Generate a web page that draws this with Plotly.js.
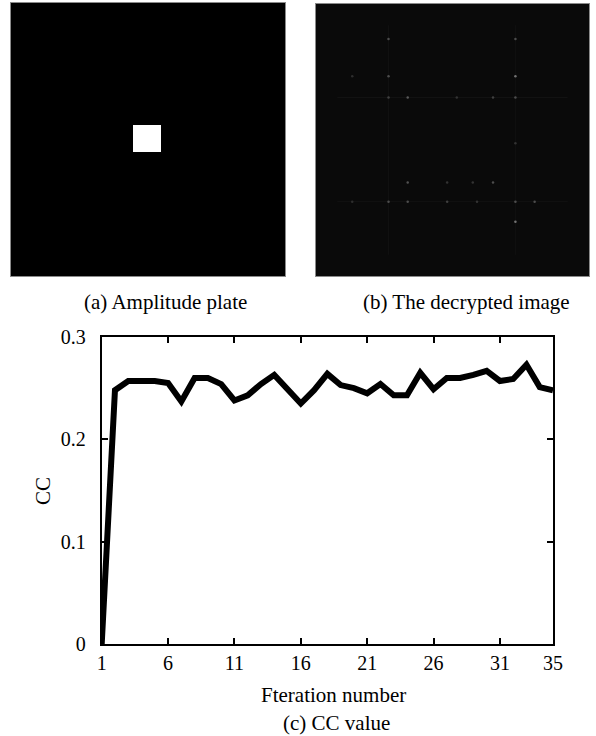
<!DOCTYPE html>
<html>
<head>
<meta charset="utf-8">
<script src="https://cdn.plot.ly/plotly-3.0.1.min.js"></script>
<style>
  html, body { margin: 0; padding: 0; background: #fff; }
  #chart { width: 596px; height: 736px; }
</style>
</head>
<body>
<div id="chart"></div>
<script>
// ---- (c) CC value curve ----
const iterations = [1,2,3,4,5,6,7,8,9,10,11,12,13,14,15,16,17,18,19,20,21,22,23,24,25,26,27,28,29,30,31,32,33,34,35];
const ccValues = [0, 0.248, 0.257, 0.257, 0.257, 0.255, 0.237, 0.260, 0.260, 0.254,
                  0.238, 0.243, 0.254, 0.263, 0.250, 0.235, 0.248, 0.264, 0.253, 0.250,
                  0.245, 0.254, 0.243, 0.243, 0.265, 0.249, 0.260, 0.260, 0.263, 0.267,
                  0.257, 0.259, 0.273, 0.251, 0.248];
const xTickVals = [1, 6, 11, 16, 21, 26, 31, 35];
const yTickVals = [0, 0.1, 0.2, 0.3];
const yTickText = ["0", "0.1", "0.2", "0.3"];

// ---- (a) amplitude plate: 256x256 image, white square in the middle ----
const plateEdges = [0, 114, 140, 256];
const plateZ = [[0, 0, 0], [0, 1, 0], [0, 0, 0]];

// ---- (b) decrypted image: dark field with faint bright spots ----
const decEdges = [0, 256];
const decZ = [[1]];
const dotX = [68, 187, 34, 68, 187, 68, 86, 132, 166, 187, 187, 86, 123, 147, 166, 68, 86, 123, 151, 187, 205, 34, 187];
const dotY = [33, 33, 68, 68, 68, 88, 88, 88, 88, 88, 131, 168, 168, 168, 168, 186, 186, 186, 186, 186, 186, 186, 205];
const dotLevel = [0.3, 0.3, 0.18, 0.3, 0.45, 0.25, 0.35, 0.2, 0.25, 0.3, 0.2, 0.32, 0.2, 0.2, 0.3, 0.3, 0.3, 0.25, 0.2, 0.3, 0.3, 0.18, 0.45];
const gridRowsY = [88, 186];
const gridColsX = [68, 187];

const W = 596, H = 736;
const px = v => v / W;
const py = v => 1 - v / H;
const FONT = "Liberation Serif";

const traces = [];

traces.push({
  type: "scatter", mode: "lines", x: iterations, y: ccValues,
  xaxis: "x", yaxis: "y",
  line: { color: "#000", width: 6 },
  hoverinfo: "skip", showlegend: false
});

traces.push({
  type: "heatmap", x: plateEdges, y: plateEdges, z: plateZ,
  xaxis: "x2", yaxis: "y2",
  colorscale: [[0, "#000000"], [1, "#ffffff"]], zmin: 0, zmax: 1,
  showscale: false, hoverinfo: "skip"
});

traces.push({
  type: "heatmap", x: decEdges, y: decEdges, z: decZ,
  xaxis: "x3", yaxis: "y3",
  colorscale: [[0, "#0a0a0a"], [1, "#0a0a0a"]], zmin: 0, zmax: 1,
  showscale: false, hoverinfo: "skip"
});
gridRowsY.forEach(r => traces.push({
  type: "scatter", mode: "lines", x: [20, 236], y: [r, r],
  xaxis: "x3", yaxis: "y3", line: { color: "#121212", width: 1 },
  hoverinfo: "skip", showlegend: false
}));
gridColsX.forEach(c => traces.push({
  type: "scatter", mode: "lines", x: [c, c], y: [20, 236],
  xaxis: "x3", yaxis: "y3", line: { color: "#111111", width: 1 },
  hoverinfo: "skip", showlegend: false
}));
traces.push({
  type: "scatter", mode: "markers", x: dotX, y: dotY,
  xaxis: "x3", yaxis: "y3",
  marker: {
    size: 2.5,
    color: dotLevel.map(l => { const g = Math.round(l * 255); return `rgb(${g},${g},${g})`; })
  },
  hoverinfo: "skip", showlegend: false
});

const imgAxis = (domain) => ({
  domain: domain, range: [0, 256], showgrid: false, zeroline: false,
  showticklabels: false, ticks: "", showline: true, mirror: true,
  linecolor: "#8a8a8a", linewidth: 1, fixedrange: true
});
const imgYAxis = (domain) => Object.assign(imgAxis(domain), { range: [256, 0] });

const layout = {
  width: W, height: H,
  margin: { l: 0, r: 0, t: 0, b: 0 },
  paper_bgcolor: "#fff", plot_bgcolor: "#fff",
  font: { family: FONT, color: "#000", size: 20 },
  showlegend: false,
  xaxis: {
    domain: [px(101.7), px(553)], range: [1, 35],
    tickvals: xTickVals, ticktext: xTickVals.map(String),
    ticks: "inside", ticklen: 6, tickwidth: 2, tickcolor: "#000",
    showline: true, linewidth: 2, linecolor: "#000", mirror: "ticks",
    showgrid: false, zeroline: false,
    tickfont: { family: FONT, size: 20, color: "#000" }
  },
  yaxis: {
    domain: [py(644), py(337)], range: [0, 0.3],
    tickvals: yTickVals, ticktext: yTickText,
    ticks: "inside", ticklen: 6, tickwidth: 2, tickcolor: "#000",
    showline: true, linewidth: 2, linecolor: "#000", mirror: "ticks",
    showgrid: false, zeroline: false, ticklabelstandoff: 10,
    tickfont: { family: FONT, size: 20, color: "#000" }
  },
  xaxis2: Object.assign(imgAxis([px(11), px(285)]), { anchor: "y2" }),
  yaxis2: Object.assign(imgYAxis([py(276), py(3)]), { anchor: "x2" }),
  xaxis3: Object.assign(imgAxis([px(316), px(589)]), { anchor: "y3" }),
  yaxis3: Object.assign(imgYAxis([py(276), py(4)]), { anchor: "x3" }),
  annotations: [
    { text: "(a) Amplitude plate", xref: "paper", yref: "paper", x: px(165), y: py(302),
      xanchor: "center", yanchor: "middle", showarrow: false, font: { family: FONT, size: 21, color: "#000" } },
    { text: "(b) The decrypted image", xref: "paper", yref: "paper", x: px(467), y: py(302),
      xanchor: "center", yanchor: "middle", showarrow: false, font: { family: FONT, size: 21, color: "#000" } },
    { text: "Fteration number", xref: "paper", yref: "paper", x: px(333), y: py(695),
      xanchor: "center", yanchor: "middle", showarrow: false, font: { family: FONT, size: 21, color: "#000" } },
    { text: "(c) CC value", xref: "paper", yref: "paper", x: px(336), y: py(723),
      xanchor: "center", yanchor: "middle", showarrow: false, font: { family: FONT, size: 21, color: "#000" } },
    { text: "CC", xref: "paper", yref: "paper", x: px(43), y: py(491), textangle: -90,
      xanchor: "center", yanchor: "middle", showarrow: false, font: { family: FONT, size: 21, color: "#000" } }
  ]
};

Plotly.newPlot("chart", traces, layout, { staticPlot: true, displayModeBar: false });
</script>
</body>
</html>
